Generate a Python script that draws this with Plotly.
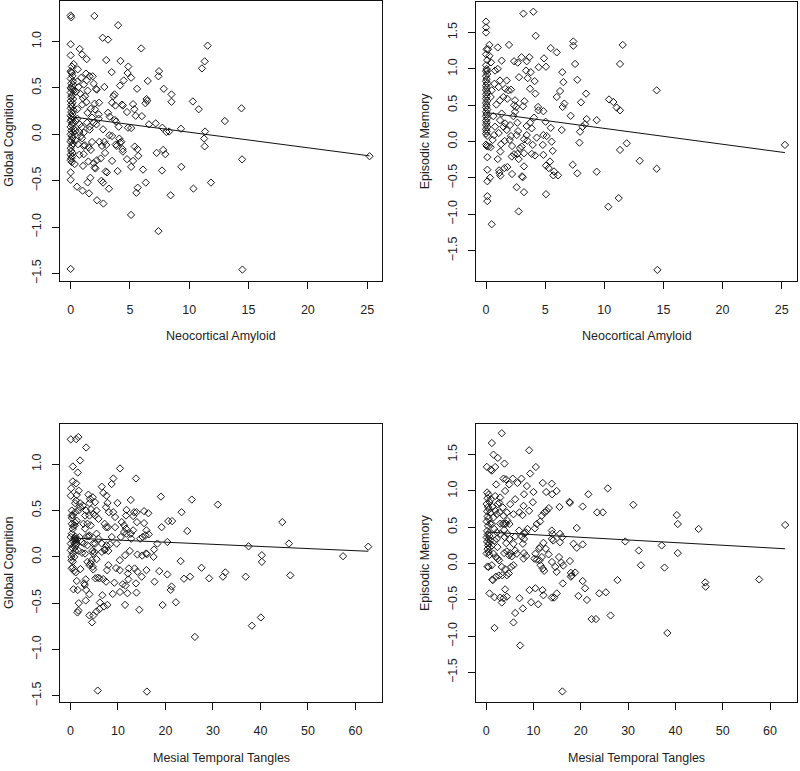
import plotly.graph_objects as go

# ---- data ----
amyloid_global = [
    (0.0,1.28),(0.05,1.26),(0.0,0.97),(0.0,0.85),(0.1,0.73),(0.0,0.68),(0.05,0.67),(0.1,0.66),(0.15,0.63),(0.0,0.6),
    (0.2,0.57),(0.05,0.55),(0.1,0.52),(0.0,0.5),(0.05,0.49),(0.15,0.48),(0.25,0.47),(0.0,0.45),(0.1,0.42),(0.05,0.4),
    (0.2,0.38),(0.0,0.36),(0.15,0.34),(0.05,0.32),(0.1,0.3),(0.0,0.28),(0.25,0.26),(0.05,0.24),(0.15,0.22),(0.0,0.2),
    (0.1,0.19),(0.2,0.18),(0.05,0.16),(0.0,0.14),(0.15,0.12),(0.1,0.1),(0.0,0.08),(0.25,0.06),(0.05,0.04),(0.2,0.02),
    (0.0,0.0),(0.1,-0.02),(0.15,-0.04),(0.05,-0.06),(0.0,-0.08),(0.2,-0.1),(0.1,-0.12),(0.0,-0.15),(0.05,-0.18),(0.15,-0.2),
    (0.0,-0.22),(0.1,-0.24),(0.05,-0.26),(0.0,-0.28),(0.1,-0.3),(0.0,-0.41),(0.0,-0.49),(0.0,-1.45),
    (2.0,1.275),(4.0,1.175),(2.7,1.04),(3.15,1.02),(0.76,0.92),(0.96,0.86),(1.35,0.81),(3.0,0.80),(4.2,0.79),(5.95,0.925),
    (11.55,0.955),(11.3,0.786),(11.07,0.71),(4.86,0.73),(0.25,0.757),(0.6,0.70),(3.46,0.67),(7.45,0.68),(7.4,0.625),(4.8,0.66),
    (5.1,0.61),(4.47,0.58),(6.5,0.575),(4.16,0.525),(5.6,0.49),(7.85,0.49),(2.84,0.51),(8.5,0.43),(8.5,0.35),(10.3,0.354),
    (10.8,0.27),(14.4,0.28),(13.0,0.143),(6.4,0.38),(6.45,0.36),(6.3,0.335),(4.33,0.32),(4.4,0.31),(3.49,0.34),(3.6,0.41),
    (3.7,0.43),(3.77,0.31),(4.75,0.24),(5.26,0.325),(5.37,0.27),(5.48,0.20),(6.0,0.196),(2.36,0.214),(3.15,0.232),(3.29,0.19),
    (3.74,0.154),(3.82,0.136),(6.6,0.107),(7.17,0.118),(7.73,0.071),(8.07,0.025),(8.3,0.03),(9.3,0.06),(11.33,0.03),(11.25,-0.046),
    (11.3,-0.13),(14.45,-0.27),(25.2,-0.236),(4.83,0.071),(5.1,0.068),(4.05,0.082),(3.26,-0.01),(3.49,-0.018),(4.1,-0.046),(4.16,-0.09),
    (4.27,-0.08),(4.38,-0.16),(4.4,-0.186),(3.88,-0.125),(3.8,-0.11),(2.42,-0.08),(2.84,-0.08),(3.0,-0.114),(2.64,-0.125),(2.9,-0.2),
    (2.53,-0.26),(3.49,-0.286),(2.95,-0.4),(3.06,-0.41),(3.96,-0.396),(4.75,-0.268),(5.1,-0.35),(5.26,-0.286),(5.4,-0.132),(5.63,-0.16),
    (5.7,-0.232),(6.1,-0.38),(7.25,-0.2),(7.8,-0.168),(7.98,-0.214),(7.7,-0.39),(9.33,-0.35),(11.83,-0.52),(10.35,-0.585),(8.43,-0.657),
    (6.33,-0.52),(5.65,-0.575),(5.54,-0.63),(5.09,-0.868),(7.4,-1.043),(14.48,-1.457),(3.23,-0.586),(2.73,-0.52),(2.59,-0.5),(2.76,-0.746),
    (2.22,-0.71),(1.55,-0.636),(1.0,-0.607),(0.53,-0.564),(1.43,-0.518),(1.66,-0.468),(1.04,-0.34),(0.34,-0.32),(0.73,-0.22),(1.1,-0.125),
    (1.2,-0.118),(1.52,-0.14),(1.7,-0.168),(1.49,-0.293),(1.94,-0.31),(2.08,-0.368),(2.02,-0.357),(2.2,-0.28),(1.8,-0.082),(0.96,-0.043),
    (0.62,-0.107),(1.1,0.018),(1.6,0.05),(1.94,0.125),(2.17,0.107),(2.36,0.168),(2.73,0.054),(1.8,0.18),(1.43,0.232),(1.69,0.275),
    (1.32,0.346),(1.04,0.39),(0.82,0.436),(0.67,0.51),(1.1,0.536),(1.35,0.582),(1.6,0.625),(1.29,0.654),(1.86,0.625),(2.14,0.489),
    (1.94,0.546),(2.2,0.482),(2.39,0.34),(2.02,0.33),(2.05,0.268),(0.56,0.27),(0.42,0.143),(0.76,0.107),(0.93,0.079),(0.42,0.036),
    (0.73,0.025),(0.87,-0.018),(1.1,-0.214),(0.42,-0.064),(0.56,0.568),(0.9,0.61),(0.56,0.168),(1.38,0.125),(1.6,0.082),(0.98,0.32),
    (1.21,0.41),(1.43,0.47),(0.45,0.46),
]

amyloid_episodic = [
    (0.0,1.65),(0.0,1.57),(0.0,1.5),(0.05,1.27),(0.0,1.2),(0.1,1.12),(0.0,1.05),(0.05,1.0),(0.0,0.97),(0.1,0.93),
    (0.0,0.9),(0.05,0.86),(0.0,0.83),(0.1,0.8),(0.0,0.77),(0.05,0.74),(0.0,0.71),(0.1,0.68),(0.0,0.65),(0.05,0.62),
    (0.0,0.59),(0.1,0.56),(0.0,0.53),(0.05,0.5),(0.0,0.47),(0.1,0.44),(0.0,0.41),(0.05,0.38),(0.0,0.35),(0.1,0.32),
    (0.0,0.29),(0.05,0.26),(0.0,0.23),(0.1,0.2),(0.0,0.17),(0.05,0.14),(0.0,0.11),(0.1,0.08),(0.0,-0.04),(0.05,-0.06),
    (4.0,1.786),(3.16,1.76),(4.2,1.455),(11.56,1.33),(7.38,1.377),(7.38,1.318),(5.47,1.286),(5.98,1.227),(1.94,1.33),(0.99,1.295),
    (0.28,1.33),(11.33,1.068),(7.53,1.068),(5.07,1.03),(4.45,1.023),(4.9,1.145),(3.0,1.16),(3.66,1.16),(3.44,1.105),(2.68,1.086),
    (2.37,1.105),(1.32,1.114),(3.38,0.977),(3.78,0.955),(6.45,0.955),(2.79,0.886),(3.52,0.873),(4.11,0.832),(1.75,0.84),(6.54,0.818),
    (7.72,0.85),(6.26,0.695),(14.43,0.705),(3.72,0.727),(4.17,0.66),(8.46,0.66),(5.98,0.614),(6.48,0.477),(6.62,0.523),(8.03,0.54),
    (10.4,0.58),(10.77,0.545),(11.05,0.468),(11.33,0.43),(3.24,0.555),(3.13,0.486),(4.4,0.477),(4.43,0.43),(4.85,0.418),(4.06,0.33),
    (7.16,0.355),(8.51,0.31),(9.36,0.295),(6.4,0.16),(5.04,0.273),(5.47,0.19),(3.72,0.26),(3.44,0.214),(3.86,0.182),(7.95,0.136),
    (8.17,0.205),(8.37,0.24),(2.65,0.26),(2.71,0.145),(2.59,0.09),(3.44,0.09),(4.28,0.055),(4.85,0.09),(5.13,0.077),(4.8,-0.045),
    (3.95,-0.045),(5.55,0.0),(3.21,0.032),(3.49,0.014),(7.9,-0.014),(11.9,-0.023),(25.28,-0.045),(11.33,-0.114),(13.0,-0.264),(5.64,-0.127),
    (4.85,-0.182),(4.14,-0.19),(3.86,-0.168),(3.21,-0.16),(2.65,-0.168),(2.37,-0.173),(2.87,-0.09),(3.02,-0.068),(2.2,-0.06),(2.17,-0.205),
    (2.76,-0.24),(3.21,-0.34),(5.41,-0.273),(5.07,-0.33),(5.3,-0.364),(5.75,-0.41),(5.69,-0.464),(6.09,-0.464),(7.33,-0.318),(7.72,-0.436),
    (9.36,-0.414),(14.43,-0.373),(10.34,-0.895),(11.22,-0.777),(5.07,-0.723),(3.21,-0.695),(2.59,-0.627),(2.76,-0.96),(0.48,-1.136),(14.49,-1.764),
    (3.04,-0.477),(3.1,-0.49),(2.2,-0.445),(1.13,-0.43),(1.21,-0.468),(1.55,-0.364),(1.8,-0.35),(1.1,-0.395),(0.99,-0.24),(0.34,-0.495),
    (0.11,-0.386),(0.11,-0.545),(0.11,-0.75),(0.11,-0.818),(0.11,-0.214),(1.21,-0.136),(1.27,-0.036),(2.0,0.023),(2.11,0.077),(1.58,0.009),
    (1.07,0.118),(0.56,0.023),(0.39,-0.077),(0.2,-0.068),(0.68,0.09),(1.75,0.16),(2.03,0.227),(1.61,0.25),(1.47,0.205),(1.18,0.295),
    (0.76,0.205),(2.31,0.35),(2.45,0.41),(2.37,0.5),(1.32,0.386),(0.62,0.35),(0.87,0.51),(1.18,0.568),(1.47,0.614),(1.63,0.727),
    (1.89,0.705),(2.11,0.714),(1.8,0.59),(1.07,0.75),(0.7,0.795),(0.48,0.705),(0.39,0.614),(1.18,0.84),(0.76,0.977),(0.99,1.0),
    (0.42,1.09),(0.28,1.18),(0.17,1.27),(0.11,0.977),(2.45,0.568),(2.54,0.477),
]

tangles_global = [
    (0.07,1.268),(1.2,1.27),(1.68,1.293),(3.3,1.18),(2.03,1.04),(0.5,0.975),(1.54,0.91),(10.43,0.954),(13.8,0.846),(9.03,0.846),
    (8.68,0.786),(19.05,0.65),(25.56,0.618),(31.02,0.564),(44.6,0.375),(46.0,0.143),(37.5,0.114),(40.3,0.018),(40.3,-0.054),(62.7,0.11),
    (57.4,0.007),(46.3,-0.2),(36.9,-0.214),(27.6,-0.118),(29.2,-0.232),(32.6,-0.168),(32.1,-0.214),(25.2,-0.214),(23.9,-0.236),(23.2,-0.046),
    (24.6,0.279),(23.4,0.482),(20.6,0.386),(21.4,0.386),(19.2,0.32),(20.4,0.16),(18.3,0.143),(17.6,0.079),(17.5,0.0),(17.7,-0.268),
    (18.7,-0.154),(20.4,-0.19),(21.3,-0.32),(21.1,-0.357),(19.4,-0.52),(22.2,-0.49),(26.2,-0.864),(38.2,-0.743),(40.1,-0.654),(5.74,-1.443),
    (16.1,-1.454),(14.5,-0.571),(11.5,-0.518),(12.0,-0.393),(13.9,-0.386),(13.8,-0.286),(11.6,-0.31),(12.2,-0.243),(12.1,-0.18),(12.3,-0.125),
    (13.5,-0.125),(14.1,-0.16),(15.0,-0.214),(16.0,-0.143),(15.9,0.036),(16.1,0.03),(14.1,0.025),(15.1,0.014),(12.5,0.064),(11.5,0.018),
    (10.4,-0.036),(10.4,-0.143),(9.6,-0.121),(10.43,-0.379),(11.0,-0.296),(8.9,-0.4),(9.24,-0.279),(7.7,-0.143),(7.98,-0.09),(7.98,0.064),
    (7.28,0.079),(8.33,0.136),(8.7,0.214),(9.73,0.143),(10.6,0.214),(9.4,0.32),(10.8,0.375),(11.3,0.34),(11.7,0.304),(11.3,0.268),
    (11.8,0.25),(12.7,0.25),(13.2,0.286),(14.0,0.375),(13.9,0.482),(15.5,0.493),(16.4,0.471),(15.5,0.364),(16.0,0.286),(16.5,0.243),
    (15.8,0.232),(15.2,0.214),(14.7,0.196),(12.8,0.196),(13.4,0.482),(13.2,0.44),(12.7,0.614),(11.8,0.507),(11.7,0.446),(9.9,0.582),
    (9.4,0.43),(9.0,0.482),(8.1,0.482),(7.8,0.582),(7.5,0.536),(7.6,0.66),(6.9,0.69),(6.6,0.757),(7.2,0.357),(7.5,0.32),
    (7.9,0.32),(6.6,0.143),(6.6,0.054),(7.2,0.071),(7.6,0.125),(7.5,-0.268),(6.9,-0.24),(7.07,-0.536),(7.77,-0.518),(6.72,-0.414),
    (6.2,-0.493),(6.1,-0.564),(5.5,-0.589),(6.1,-0.232),(5.74,-0.225),(5.25,-0.232),(5.5,-0.025),(5.04,0.054),(4.6,0.064),(4.8,0.036),
    (5.2,0.143),(5.5,0.25),(5.9,0.196),(5.9,0.41),(5.2,0.446),(4.8,0.464),(5.5,0.5),(5.2,0.589),(4.7,0.643),(4.13,0.625),
    (3.78,0.671),(4.0,0.579),(4.34,0.514),(4.0,0.446),(4.27,0.34),(4.0,0.232),(3.85,0.221),(4.8,0.143),(4.48,-0.036),(4.7,-0.107),
    (4.8,-0.136),(4.0,-0.09),(4.27,-0.07),(3.57,-0.054),(3.22,-0.243),(2.87,-0.286),(3.0,-0.304),(3.3,-0.357),(4.0,-0.404),(3.22,-0.471),
    (4.0,-0.632),(4.83,-0.632),(4.55,-0.707),(1.68,-0.579),(1.47,-0.6),(1.75,-0.5),(1.54,-0.357),(0.63,-0.35),(1.33,-0.26),(2.1,-0.132),
    (1.12,-0.168),(0.49,-0.114),(0.21,-0.036),(0.49,0.036),(0.98,0.064),(1.75,0.064),(2.45,0.043),(3.08,0.036),(3.57,0.125),(2.87,0.143),
    (2.38,0.16),(1.9,0.214),(0.98,0.18),(1.19,0.16),(1.12,0.196),(1.33,0.143),(0.91,0.143),(0.8,0.2),(1.0,0.22),(0.6,0.17),
    (1.4,0.19),(1.05,0.12),(0.28,0.25),(0.49,0.3),(0.28,0.357),(1.0,0.37),(0.9,0.34),(1.33,0.39),(0.28,0.446),(0.28,0.5),
    (0.98,0.482),(1.68,0.5),(2.03,0.536),(2.6,0.554),(3.3,0.5),(3.08,0.446),(2.73,0.357),(3.57,0.357),(3.08,0.304),(3.43,0.221),
    (0.07,0.66),(0.14,0.74),(0.49,0.814),(1.19,0.793),(1.75,0.714),(1.33,0.668),(1.19,0.607),(0.98,0.579),(2.03,0.579),(0.07,0.071),
    (0.07,0.143),(0.07,0.214),(0.28,-0.125),(0.77,-0.15),(0.5,0.45),(0.3,0.42),(0.6,0.33),(0.35,0.1),(0.2,0.0),(0.5,-0.05),
    (0.8,0.0),
]

tangles_episodic = [
    (3.3,1.795),(1.2,1.66),(9.08,1.56),(1.55,1.5),(2.46,1.455),(3.87,1.377),(0.14,1.332),(0.99,1.295),(1.2,1.28),(1.9,1.33),
    (10.5,1.33),(9.3,1.24),(3.66,1.17),(4.2,1.16),(5.63,1.17),(7.46,1.17),(4.86,1.09),(2.11,1.09),(6.62,1.11),(11.97,1.11),
    (13.87,1.1),(14.9,1.0),(13.94,0.955),(12.68,0.986),(10.0,0.986),(8.6,1.068),(21.6,0.955),(25.7,1.036),(8.0,0.955),(6.13,0.886),
    (4.0,1.0),(2.96,0.91),(2.75,0.84),(5.07,0.818),(31.1,0.81),(20.4,0.786),(17.6,0.85),(17.7,0.836),(15.5,0.78),(9.86,0.845),
    (9.08,0.727),(7.9,0.795),(7.68,0.668),(7.04,0.705),(13.24,0.764),(12.8,0.727),(12.3,0.705),(11.76,0.66),(11.4,0.58),(10.7,0.545),
    (10.3,0.486),(23.45,0.705),(24.65,0.705),(40.3,0.668),(40.5,0.545),(44.9,0.477),(63.2,0.532),(19.15,0.49),(13.87,0.455),(14.0,0.41),
    (15.6,0.41),(16.06,0.364),(14.15,0.318),(15.6,0.295),(18.45,0.273),(19.15,0.218),(20.4,0.264),(29.4,0.305),(37.1,0.25),(32.25,0.18),
    (40.5,0.145),(32.7,-0.023),(37.7,-0.055),(57.7,-0.218),(46.3,-0.26),(46.4,-0.318),(27.75,-0.227),(20.4,-0.24),(20.9,-0.34),(23.9,-0.41),
    (25.3,-0.395),(19.5,-0.445),(21.3,-0.5),(22.3,-0.764),(23.2,-0.764),(26.3,-0.714),(38.3,-0.955),(16.1,-1.76),(7.18,-1.127),(1.76,-0.886),
    (5.77,-0.81),(6.13,-0.68),(7.75,-0.618),(7.04,-0.477),(2.96,-0.468),(3.3,-0.536),(3.66,-0.477),(4.0,-0.355),(4.37,-0.455),(0.7,-0.41),
    (1.76,-0.464),(9.15,-0.364),(9.5,-0.532),(10.4,-0.34),(11.0,-0.56),(11.9,-0.364),(12.1,-0.436),(13.87,-0.468),(14.37,-0.468),(14.93,-0.41),
    (16.2,-0.273),(17.9,-0.127),(18.1,-0.164),(17.9,-0.18),(18.8,-0.123),(17.7,0.036),(16.3,-0.027),(15.9,0.014),(15.4,0.09),(14.9,-0.114),
    (14.6,-0.045),(13.9,0.023),(13.2,0.127),(12.25,-0.1),(11.97,-0.068),(11.5,-0.023),(11.27,0.045),(11.76,0.09),(12.6,0.205),(11.2,0.205),
    (10.4,0.136),(10.2,0.068),(10.7,0.055),(12.1,0.286),(11.4,0.227),(13.9,0.34),(8.0,0.145),(7.9,0.068),(8.45,0.105),(7.75,0.273),
    (8.0,0.34),(8.38,0.43),(8.73,0.477),(8.0,0.418),(7.5,0.373),(6.97,0.455),(6.13,0.373),(5.77,0.273),(6.13,0.18),(6.48,0.136),
    (5.07,0.145),(5.42,0.1),(4.37,0.168),(3.8,0.145),(4.86,0.114),(5.77,-0.023),(5.28,-0.045),(4.79,-0.136),(4.37,-0.16),(4.0,-0.077),
    (3.3,-0.045),(2.75,0.045),(2.4,0.068),(2.1,0.09),(1.55,0.136),(1.2,-0.023),(0.49,-0.045),(1.4,-0.227),(1.3,-0.22),(2.04,-0.18),
    (2.68,-0.164),(3.38,-0.16),(2.96,0.55),(3.5,0.55),(3.8,0.545),(4.2,0.55),(4.5,0.59),(4.93,0.545),(3.8,0.464),(2.96,0.41),
    (2.25,0.43),(1.7,0.477),(1.2,0.545),(1.55,0.636),(2.25,0.68),(2.82,0.705),(1.9,0.727),(1.34,0.78),(0.99,0.886),(1.9,0.93),
    (2.46,0.818),(3.52,0.773),(4.37,0.705),(3.66,0.66),(4.5,0.41),(4.93,0.34),(4.23,0.282),(3.94,0.364),(5.77,0.68),(2.25,0.34),
    (1.76,0.318),(1.2,0.25),(2.4,0.227),
    (0.2,0.98),(0.5,0.95),(0.3,0.9),(0.7,0.85),(0.1,0.82),(0.4,0.78),(0.6,0.75),(0.2,0.72),(0.9,0.7),(0.3,0.65),
    (0.5,0.62),(0.1,0.58),(0.8,0.55),(0.4,0.52),(0.2,0.45),(0.6,0.42),(0.3,0.4),(0.7,0.38),(0.1,0.36),(0.5,0.34),
    (0.9,0.32),(0.2,0.3),(0.6,0.28),(0.4,0.25),(0.8,0.22),(0.3,0.2),(0.5,0.16),(0.1,0.14),(0.3,-0.04),(0.7,0.12),
]

panels = [amyloid_global, amyloid_episodic, tangles_global, tangles_episodic]

# least-squares lines as drawn in the figure (intercept, slope)
fit_intercepts = [0.19, 0.40, 0.204, 0.435]
fit_slopes = [-0.01675, -0.0218, -0.00229, -0.00365]

x_titles = ["Neocortical Amyloid", "Neocortical Amyloid", "Mesial Temporal Tangles", "Mesial Temporal Tangles"]
y_titles = ["Global Cognition", "Episodic Memory", "Global Cognition", "Episodic Memory"]
x_tickvals = [[0, 5, 10, 15, 20, 25], [0, 5, 10, 15, 20, 25],
              [0, 10, 20, 30, 40, 50, 60], [0, 10, 20, 30, 40, 50, 60]]
y_tickvals = [[-1.5, -1.0, -0.5, 0.0, 0.5, 1.0], [-1.5, -1.0, -0.5, 0.0, 0.5, 1.0, 1.5],
              [-1.5, -1.0, -0.5, 0.0, 0.5, 1.0], [-1.5, -1.0, -0.5, 0.0, 0.5, 1.0, 1.5]]

# ---- layout geometry ----
W, H = 800, 771
boxes = [(60, 382, 1, 282), (476, 797, 2, 282), (60, 382, 426, 706), (476, 797, 426, 706)]
x_ranges = [[-0.9, 26.25], [-0.85, 26.3], [-2.2, 65.6], [-2.15, 65.7]]
y_ranges = [[-1.575, 1.436], [-1.91, 1.92], [-1.57, 1.436], [-1.91, 1.925]]

FONT = "Liberation Sans, Arial, sans-serif"
TXT = "#1e1e1e"
fs = 12.5

fig = go.Figure()
layout = dict(
    width=W, height=H, margin=dict(l=0, r=0, t=0, b=0),
    paper_bgcolor="white", plot_bgcolor="white", showlegend=False,
    font=dict(family=FONT, size=fs, color=TXT),
)
annotations = []
for i, pts in enumerate(panels):
    n = "" if i == 0 else str(i + 1)
    xs = [p[0] for p in pts]
    ys = [p[1] for p in pts]
    fig.add_trace(go.Scatter(
        x=xs, y=ys, mode="markers", xaxis="x" + n, yaxis="y" + n,
        marker=dict(symbol="diamond-open", size=5.6, color="#1a1a1a", line=dict(width=1, color="#1a1a1a")),
        hoverinfo="x+y"))
    lx = [min(xs), max(xs)]
    ly = [fit_intercepts[i] + fit_slopes[i] * v for v in lx]
    fig.add_trace(go.Scatter(
        x=lx, y=ly, mode="lines", xaxis="x" + n, yaxis="y" + n,
        line=dict(color="#111111", width=1), hoverinfo="skip"))
    l, r, t, b = boxes[i]
    layout["xaxis" + n] = dict(
        domain=[l / W, r / W], range=x_ranges[i], anchor="y" + n,
        tickvals=x_tickvals[i], ticks="outside", ticklen=7, tickwidth=1, tickcolor="#111",
        showline=True, mirror=True, linecolor="#111", linewidth=1,
        showgrid=False, zeroline=False, ticklabelstandoff=10,
        tickfont=dict(family=FONT, size=fs, color=TXT))
    layout["yaxis" + n] = dict(
        domain=[1 - b / H, 1 - t / H], range=y_ranges[i], anchor="x" + n,
        tickvals=y_tickvals[i], tickformat=".1f", tickangle=-90,
        ticks="outside", ticklen=7, tickwidth=1, tickcolor="#111",
        showline=True, mirror=True, linecolor="#111", linewidth=1,
        showgrid=False, zeroline=False, ticklabelstandoff=6,
        tickfont=dict(family=FONT, size=fs, color=TXT))
    annotations.append(dict(
        text=x_titles[i], xref="paper", yref="paper", x=(l + r) / 2 / W, y=1 - (b + 56) / H,
        showarrow=False, xanchor="center", yanchor="middle", font=dict(family=FONT, size=fs, color=TXT)))
    annotations.append(dict(
        text=y_titles[i], xref="paper", yref="paper", x=(l - 51) / W, y=1 - (t + b) / 2 / H,
        textangle=-90, showarrow=False, xanchor="center", yanchor="middle",
        font=dict(family=FONT, size=fs, color=TXT)))
layout["annotations"] = annotations
fig.update_layout(**layout)
fig.write_html("out.html", config={"displayModeBar": False},
               post_script="document.body.style.margin='0';document.body.style.overflow='hidden';")
